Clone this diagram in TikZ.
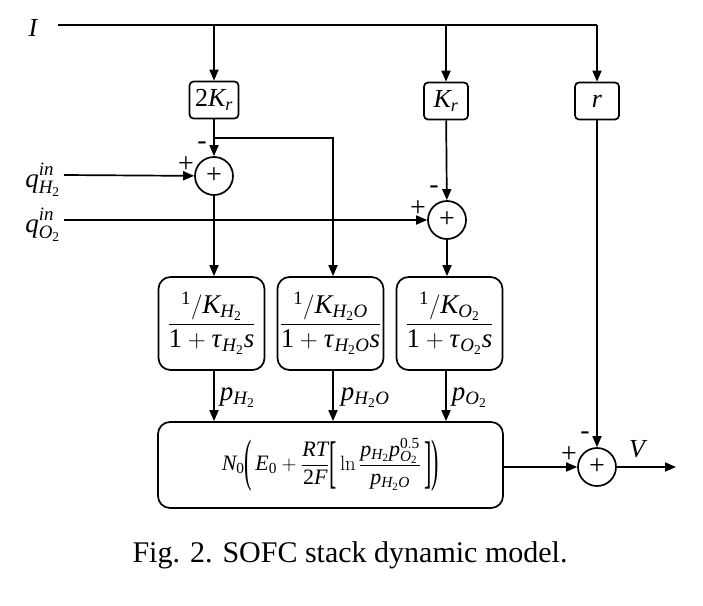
\documentclass[tikz,border=0pt]{standalone}
\usepackage{graphicx}
\usepackage{mathspec}
\setmainfont{Liberation Serif}
\setmathsfont(Digits,Latin,Greek){Liberation Serif}
\usetikzlibrary{arrows.meta}
\newcommand{\tallopen}[1]{\mathopen{\vcenter{\hbox{\scalebox{1}[2.6]{#1}}}}}
\newcommand{\tallclose}[1]{\mathclose{\vcenter{\hbox{\scalebox{1}[2.6]{#1}}}}}
\begin{document}
\begin{tikzpicture}[x=1pt,y=-1pt,
  line width=1.7pt,
  arr/.style={-{Triangle[length=11pt,width=9pt]}},
  gain/.style={draw, rounded corners=4pt, minimum height=37pt, inner sep=0pt, font=\fontsize{26}{28}\selectfont},
  tf/.style={draw, rounded corners=12pt, minimum width=106pt, minimum height=93pt, inner sep=0pt, font=\fontsize{27}{30}\selectfont},
  sumc/.style={draw, circle, minimum size=38pt, inner sep=0pt, font=\fontsize{28}{30}\selectfont},
  sgn/.style={font=\fontsize{28}{30}\selectfont, inner sep=0pt},
  lbl/.style={font=\fontsize{26}{28}\selectfont, inner sep=0pt},
  qlbl/.style={font=\fontsize{27}{29}\selectfont, inner sep=0pt, anchor=east},
  plbl/.style={font=\fontsize{27}{29}\selectfont, inner sep=0pt, anchor=west}]
\useasboundingbox (0,0) rectangle (703,605);

% labels
\node[lbl] (Ilab) at (33,28) {$I$};
\coordinate (Istart) at (58,25);
\coordinate (Icorner) at (597,25);
\coordinate (b1) at (214,25);
\coordinate (b2) at (446,25);

% gains
\node[gain, minimum width=49pt] (g2k) at (214,100) {$2K_r$};
\node[gain, minimum width=44pt] (gk) at (446,101) {$K_r$};
\node[gain, minimum width=44pt] (gr) at (597,101) {$r$};

% sums
\node[sumc] (s1) at (214,176) {\raisebox{-3pt}{+}};
\node[sumc] (s2) at (447,220) {\raisebox{-3pt}{+}};
\node[sumc] (s3) at (597,467) {\raisebox{-3pt}{+}};

% inputs
\node[qlbl] (qh) at (61,180) {$q_{H_2}^{\raisebox{3pt}{$\scriptstyle in$}}$};
\node[qlbl] (qo) at (61,225) {$q_{O_2}^{\raisebox{3pt}{$\scriptstyle in$}}$};
\coordinate (qhs) at (64,175);
\coordinate (qos) at (64,220);

% transfer blocks
\node[tf] (th2) at (211.5,323.5) {$\displaystyle\frac{{}^{1}\big/{\textstyle K_{H_2}}}{1+\tau_{H_2}s}$};
\node[tf] (th2o) at (330.5,323.5) {$\displaystyle\frac{{}^{1}\big/{\textstyle K_{H_2O}}}{1+\tau_{H_2O}s}$};
\node[tf] (to2) at (449.5,323.5) {$\displaystyle\frac{{}^{1}\big/{\textstyle K_{O_2}}}{1+\tau_{O_2}s}$};

% output block
\node[draw, rounded corners=12pt, minimum width=345pt, minimum height=86pt, inner sep=0pt, font=\fontsize{22}{24}\selectfont] (big) at (330.5,465)
  {$\displaystyle N_0\tallopen{(}\,E_0+\frac{RT}{2F}\tallopen{[}\,\ln\frac{p_{H_2}p_{O_2}^{0.5}}{p_{H_2O}}\,\tallclose{]}\tallclose{)}$};

\coordinate (j1) at (214,138);
\coordinate (Vend) at (676,467);

% connectors
\draw (Istart) -- (Icorner);
\draw[arr] (Icorner) -- (gr);
\draw[arr] (b1) -- (g2k);
\draw[arr] (b2) -- (gk);
\draw[arr] (g2k) -- (s1);
\draw[arr] (j1) -- ++(119,0) -- (th2o.north -| 333,0);
\draw[arr] (gk) -- (s2);
\draw[arr] (qhs) -- (s1);
\draw[arr] (qos) -- (s2);
\draw[arr] (s1) -- (th2.north -| s1);
\draw[arr] (s2) -- (to2.north -| s2);
\draw[arr] (th2.south -| 214,0) -- (big.north -| 214,0);
\draw[arr] (th2o.south -| 333,0) -- (big.north -| 333,0);
\draw[arr] (to2.south -| 446,0) -- (big.north -| 446,0);
\draw[arr] (big.east |- s3) -- (s3);
\draw[arr] (gr) -- (s3);
\draw[arr] (s3) -- (Vend);

% p labels
\node[plbl] (ph2) at (219,398) {$p_{H_2}$};
\node[plbl] (ph2o) at (340,398) {$p_{H_2O}$};
\node[plbl] (po2) at (451,398) {$p_{O_2}$};

% signs
\node[sgn] (m1) at (202,146) {-};
\node[sgn] (p1) at (186,165) {+};
\node[sgn] (m2) at (434,190) {-};
\node[sgn] (p2) at (418,209) {+};
\node[sgn] (m3) at (585,436) {-};
\node[sgn] (p3) at (569,455) {+};

\node[lbl] (V) at (637,449) {$V$};

% caption
\node[font=\fontsize{30}{32}\selectfont, inner sep=0pt] (cap) at (350,555) {Fig. 2. SOFC stack dynamic model.};
\end{tikzpicture}
\end{document}
